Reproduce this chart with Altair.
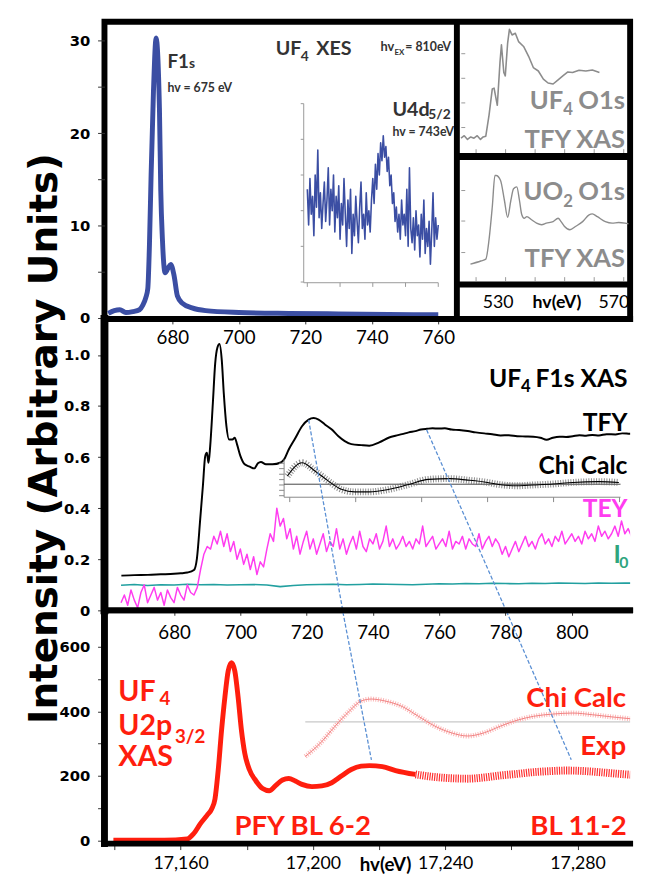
import altair as alt
import pandas as pd

FONT = "Lato"
NUM = "DejaVu Sans"

# ======================= DATA =======================
# ---- UF4 XES, F1s emission (top-left panel) ----
xes_ev = [660.7, 662.5, 664.2, 666.0, 668.1, 670.1, 671.1, 672.0, 672.6, 673.1, 673.6, 674.3, 675.1,
          676.1, 676.5, 677.0, 677.8, 678.7, 679.5, 680.5, 681.5, 683.0, 685.9, 690.0, 700.0, 715.0,
          730.0, 745.0, 760.0]
xes_val = [0.5, 0.8, 0.9, 0.6, 0.7, 0.9, 1.4, 2.2, 3.2, 8.0, 15.6, 24.5, 30.3,
           22.7, 13.8, 8.5, 4.9, 5.4, 5.8, 4.6, 2.4, 1.6, 1.1, 0.8, 0.6, 0.5,
           0.45, 0.4, 0.35]
xes_x_ticks = [680, 700, 720, 740, 760]
xes_y_ticks = [0, 5, 10, 15, 20, 25, 30]
XES_XDOM = [659.56, 765.6]
XES_YDOM = [-0.1, 32.07]

# ---- U4d5/2 inset (its own units: x 0..4, y 0..5) ----
u4d_iy = [2.6, 1.6, 2.9, 1.9, 2.4, 1.3, 3.0, 2.1, 3.7, 1.8, 2.5, 1.5, 2.2,
          2.8, 1.7, 2.3, 3.2, 1.6, 2.6, 2.0, 3.0, 1.4, 2.4, 1.8, 2.7, 1.2, 2.2, 1.6, 2.9, 1.9, 1.0,
          2.3, 1.5, 2.6, 0.8, 1.9, 1.3, 2.4, 1.7, 1.1, 2.1, 2.8, 1.5, 1.9, 1.2, 2.5, 1.6, 2.0, 1.4, 2.3,
          2.9, 2.2, 3.3, 2.6, 3.6, 3.0, 3.9, 3.4, 4.1, 3.5, 3.8, 3.1, 3.5,
          2.7, 3.0, 2.2, 2.5, 1.7, 2.1, 1.4, 1.9, 1.2, 2.3, 1.6, 1.9,
          1.3, 2.6, 1.0, 3.2, 1.5, 1.1, 1.8, 0.9, 2.0, 1.3, 1.6, 0.7, 1.9, 1.2, 2.3, 0.8, 1.5, 1.0,
          1.7, 0.5, 1.4, 2.5, 1.0, 1.8, 1.2, 1.6]
u4d_ix_step = 0.04
u4d_x_ticks = [0, 1, 2, 3, 4]
u4d_y_ticks = [0, 1, 2, 3, 4, 5]
# placement of the inset frame inside the XES panel (host units)
U4D_EV0, U4D_EV_PER = 720.6, 9.85
U4D_V0, U4D_V_PER = 3.9, 3.86

# ---- UF4 O1s TFY XAS (top-right 1) ----
p1_ev = [515.1, 516.2, 517.3, 518.4, 519.5, 520.6, 521.7, 522.6, 523.5, 524.6, 525.7, 526.3, 527.4,
         528.3, 528.8, 529.6, 530.1, 530.9, 531.5, 532.4, 533.5, 534.6, 536.3, 538.0, 539.6, 541.3,
         543.0, 544.6, 546.3, 548.0, 549.6, 551.3, 552.9, 555.1, 557.4, 559.6, 562.0]
p1_val = [0.11, 0.13, 0.10, 0.12, 0.11, 0.13, 0.10, 0.12, 0.126, 0.298, 0.512, 0.518, 0.378,
          0.726, 0.872, 0.646, 0.618, 0.886, 0.998, 0.952, 0.966, 0.898, 0.858, 0.778, 0.686, 0.658,
          0.592, 0.56, 0.552, 0.586, 0.618, 0.65, 0.646, 0.664, 0.658, 0.666, 0.646]
p1_y_ticks = [0.2, 0.4, 0.6, 0.8]
P1_YDOM = [-0.04, 1.06]

# ---- UO2 O1s TFY XAS (top-right 2) ----
p2_ev = [518.3, 521.8, 523.5, 524.6, 525.7, 526.6, 527.0, 528.5, 529.8, 530.9, 532.0, 532.9, 534.0,
         534.9, 535.7, 536.5, 537.4, 539.0, 540.7, 542.4, 544.0, 546.3, 548.0, 549.0, 550.1, 552.0,
         554.0, 556.3, 558.5, 559.6, 561.3, 564.0, 566.3, 568.5, 570.7, 571.8]
p2_val = [0.61, 0.71, 0.77, 1.40, 2.46, 3.47, 3.47, 3.31, 2.67, 2.12, 2.67, 3.04, 3.10,
          2.67, 2.20, 2.09, 2.14, 2.04, 1.93, 1.88, 1.93, 1.98, 2.09, 1.98, 1.83, 1.72,
          1.83, 1.98, 2.20, 2.23, 2.14, 1.98, 1.93, 1.95, 1.93, 1.91]
p2_y_ticks = [1, 2, 3]
P2_YDOM = [-0.05, 4.08]
o1s_x_ticks = [520, 530, 540, 550, 560, 570]
O1S_XDOM = [513.7, 572.4]

# ---- UF4 F1s XAS (middle) ----
tfy_ev = [664.1, 668, 672.1, 676, 680, 682.0, 684, 686.0, 686.9, 687.9, 688.7, 689.4, 689.9, 690.4,
          690.9, 691.7, 692.4, 693.1, 693.7, 694.4, 695.0, 695.8, 696.6, 697.6, 698.3, 699.0, 700.0,
          701.3, 702.8, 704.2, 705.3, 706.2, 707.7, 709.7, 712.2, 713.2, 714.6, 716.6, 718.6, 720.6,
          722.1, 723.6, 725.5, 727.5, 729.5, 731.5, 733.5, 736.5, 738.9, 741.9, 744.9, 746.8, 748.8,
          750.8, 752.8, 754.5, 756.3, 758.0, 759.7, 761.7, 763.7, 766.0, 768.6, 771.0, 773.6, 776.0,
          778.5, 781.0, 783.5, 786.0, 788.4, 790.5, 792.4, 794.3, 796.3, 798.3, 800.3, 802.3, 804.3,
          806.2, 808.2, 810.5, 813.2, 815.2, 817.1, 820.0]
tfy_val = [0.136, 0.138, 0.139, 0.141, 0.143, 0.145, 0.148, 0.158, 0.204, 0.359, 0.488, 0.604, 0.617,
           0.578, 0.643, 0.811, 0.966, 1.030, 1.043, 0.979, 0.850, 0.721, 0.669, 0.669, 0.676, 0.650,
           0.605, 0.572, 0.563, 0.556, 0.576, 0.581, 0.572, 0.572, 0.579, 0.591, 0.630, 0.675, 0.721,
           0.747, 0.753, 0.747, 0.728, 0.709, 0.683, 0.663, 0.651, 0.647, 0.645, 0.658, 0.677, 0.684,
           0.690, 0.697, 0.702, 0.708, 0.711, 0.713, 0.712, 0.713, 0.708, 0.706, 0.702, 0.697, 0.693,
           0.690, 0.685, 0.686, 0.682, 0.681, 0.680, 0.676, 0.668, 0.676, 0.680, 0.679, 0.682, 0.686,
           0.684, 0.687, 0.685, 0.690, 0.689, 0.693, 0.692, 0.690]
tey_ev0, tey_step = 664, 1
tey_val = [0.03, 0.06, 0.02, 0.08, 0.04, 0.01, 0.07, 0.10, 0.03, 0.06, 0.09, 0.04, 0.07, 0.02, 0.08,
           0.05, 0.03, 0.09, 0.06, 0.04, 0.10, 0.07, 0.06,
           0.09, 0.16, 0.22, 0.25, 0.24, 0.29, 0.26, 0.31, 0.25, 0.30,
           0.23, 0.27, 0.20, 0.24, 0.18, 0.22, 0.16, 0.21, 0.14, 0.19, 0.17,
           0.24, 0.30, 0.27, 0.40, 0.33, 0.36, 0.28, 0.32, 0.24, 0.29,
           0.22, 0.27, 0.31, 0.24, 0.28, 0.22, 0.26, 0.30, 0.23, 0.27, 0.25, 0.32, 0.24, 0.28, 0.22,
           0.26, 0.29, 0.24, 0.31, 0.25, 0.23, 0.28,
           0.26, 0.30, 0.24, 0.27, 0.33, 0.25, 0.28, 0.24, 0.26, 0.29, 0.25, 0.27, 0.24, 0.28, 0.26,
           0.33, 0.25, 0.27, 0.29, 0.24, 0.26, 0.28, 0.25, 0.31, 0.24, 0.27, 0.26, 0.29, 0.24, 0.28,
           0.26, 0.25, 0.30, 0.24, 0.27, 0.29, 0.25, 0.28, 0.26,
           0.22, 0.25, 0.21, 0.24, 0.27, 0.23, 0.26, 0.29, 0.25, 0.27, 0.24, 0.28, 0.30, 0.26, 0.28,
           0.25, 0.29, 0.27, 0.31, 0.26, 0.28, 0.30, 0.27, 0.29, 0.26, 0.31, 0.28, 0.30, 0.27, 0.33,
           0.29, 0.31, 0.28, 0.30, 0.33, 0.29, 0.35, 0.30, 0.32, 0.29, 0.34, 0.31]
i0_ev0, i0_step = 664, 4
i0_val = [0.098, 0.101, 0.097, 0.100, 0.099, 0.102, 0.100, 0.101, 0.099, 0.100, 0.101, 0.099, 0.093,
          0.097, 0.100, 0.101, 0.102, 0.100, 0.101, 0.103, 0.102, 0.101, 0.100, 0.102, 0.104, 0.103,
          0.105, 0.104, 0.106, 0.105, 0.104, 0.106, 0.105, 0.107, 0.106, 0.105, 0.107, 0.106, 0.107,
          0.106]
chi_ev = [714.2, 718.6, 722.6, 726.5, 730.5, 734.5, 738.9, 744.9, 750.8, 756.7, 763.2, 768.6, 774.6,
          778.5, 783.5, 788.4, 794.4, 800.3, 808.2, 814.2]
chi_val = [0.526, 0.578, 0.545, 0.507, 0.474, 0.464, 0.464, 0.474, 0.493, 0.513, 0.516, 0.510, 0.501,
           0.492, 0.488, 0.491, 0.495, 0.501, 0.504, 0.501]
# chi inset frame (host units)
chi_frame_ev = [713.2, 814.7]
chi_frame_val = [0.443, 0.591]
chi_zero = 0.494
chi_y_ticks = [0.449, 0.470, 0.491, 0.512, 0.533, 0.555, 0.576]
chi_x_ticks = [714.9, 734.8, 754.7, 774.6, 794.5, 814.4]
mid_x_ticks = [680, 700, 720, 740, 760, 780, 800]
mid_y_ticks = [0, 0.2, 0.4, 0.6, 0.8, 1.0]
MID_XDOM = [659, 817.6]
MID_YDOM = [0, 1.141]
# guide lines TFY peaks -> U2p3/2 peaks (middle part)
mid_guide = [(720.6, 0.746, 731.4, -0.037), (756.2, 0.707, 781.4, -0.037)]

# ---- UF4 U2p3/2 XAS (bottom) ----
pfy_ev = [17139.7, 17150, 17155.1, 17162.0, 17164.0, 17166.0, 17168.0, 17169.4, 17170.4, 17171.4,
          17172.4, 17173.4, 17174.4, 17175.4, 17176.4, 17177.4, 17178.4, 17179.4, 17180.8, 17182.8,
          17184.8, 17186.8, 17188.8, 17190.8, 17192.7, 17194.7, 17196.7, 17199.7, 17202.7, 17205.7,
          17208.6, 17211.6, 17214.6, 17217.1, 17221.0, 17225.0, 17231.0]
pfy_val = [0, 0, 0, 3.7, 20.8, 51.4, 77.1, 97.2, 127.8, 219.6, 341.9, 444.0, 525.4, 551.1, 525.4,
           444.0, 341.9, 270.6, 219.6, 184.0, 160.4, 153.4, 170.5, 187.0, 191.9, 183.9, 173.5, 166.5,
           168.6, 178.7, 199.2, 219.6, 230.0, 231.8, 228.7, 216.5, 204.3]
bl_ev = [17231.0, 17236.9, 17241.8, 17246.8, 17251.8, 17256.7, 17261.7, 17266.7, 17271.6, 17276.6,
         17281.6, 17286.5, 17291.5, 17298.9]
bl_val = [204.3, 196.3, 192.5, 191.1, 195.0, 201.2, 206.0, 211.4, 214.5, 216.5, 215.0, 211.4, 207.0,
          201.2]
chib_ev = [17197.7, 17202.2, 17206.6, 17211.1, 17214.6, 17217.7, 17222.0, 17227.0, 17231.9, 17236.9,
           17241.8, 17246.8, 17251.8, 17256.7, 17261.7, 17266.7, 17272.6, 17278.6, 17284.5, 17291.5,
           17298.9]
chib_val = [260.2, 300.9, 352.9, 401.8, 432.4, 438.5, 432.0, 415.4, 384.9, 354.3, 333.8, 323.7, 333.8,
            354.3, 372.6, 384.9, 391.9, 395.0, 389.8, 381.8, 374.5]
chib_zero = 367.6
chib_zero_ev = [17197.7, 17298.3]
bot_guide = [(17208.4, 744.6, 17217.7, 249.2), (17257.1, 744.6, 17278.1, 250.2)]
bot_x_ticks = [17140, 17160, 17180, 17200, 17220, 17240, 17260, 17280]
bot_y_ticks = [0, 100, 200, 300, 400, 500, 600]
BOT_XDOM = [17137, 17295.9]
BOT_YDOM = [-10.7, 714]

# colours
BLUE = "#3b4ea3"
GRAY = "#8c8c8c"
MAG = "#ff3cf0"
TEAL = "#22a0a0"
GREEN = "#2fa57e"
RED = "#ff1e0e"
DASHBLUE = "#5a8fd3"
DARK = "#333333"

# panel geometry (pixels of the plot areas)
TOP_W, TOP_H = 534, 302
XES_W = 358
P1_H, P2_H, BOX_H = 137, 130, 35
MID_W, MID_H = 534, 296
BOT_W, BOT_H = 534, 237


# ======================= HELPERS =======================
def make_enc(xdom, ydom, xaxis=None, yaxis=None, xrange=None, yrange=None):
    def X(f="x"):
        kw = dict(domain=xdom, nice=False, zero=False, padding=0)
        if xrange is not None:
            kw["range"] = xrange
        return alt.X(f"{f}:Q", scale=alt.Scale(**kw), axis=xaxis)

    def Y(f="y"):
        kw = dict(domain=ydom, nice=False, zero=False, padding=0)
        if yrange is not None:
            kw["range"] = yrange
        return alt.Y(f"{f}:Q", scale=alt.Scale(**kw), axis=yaxis)
    return X, Y


def line(df, X, Y, color, width, dash=None, interp="linear", opacity=1.0, group=False, clip=True):
    kw = dict(color=color, strokeWidth=width, clip=clip, interpolate=interp, opacity=opacity,
              strokeJoin="round")
    if dash:
        kw["strokeDash"] = dash
    enc = dict(x=X(), y=Y())
    if group:
        enc["detail"] = "g:N"
    return alt.Chart(df).mark_line(**kw).encode(**enc)


def rules(df, X, Y, color, width, clip=True, cap="butt"):
    return alt.Chart(df).mark_rule(color=color, strokeWidth=width, clip=clip, strokeCap=cap).encode(
        x=X(), x2=alt.X2("x2"), y=Y(), y2=alt.Y2("y2"))


def frame_no_right(xdom, ydom, X, Y, left_w=7):
    """open frame (left, top, bottom) drawn along the domain edges"""
    df = pd.DataFrame([
        dict(x=xdom[0], x2=xdom[1], y=ydom[1], y2=ydom[1]),
        dict(x=xdom[0], x2=xdom[1], y=ydom[0], y2=ydom[0])])
    left = pd.DataFrame([dict(x=xdom[0], x2=xdom[0], y=ydom[0], y2=ydom[1])])
    return [rules(df, X, Y, "black", 6, clip=False, cap="square"),
            rules(left, X, Y, "black", left_w, clip=False, cap="square")]


def texts(rows, X, Y, align="left", weight="bold", baseline="alphabetic"):
    df = pd.DataFrame(rows, columns=["t", "x", "y", "s", "c"])
    return alt.Chart(df).mark_text(align=align, baseline=baseline, font=FONT,
                                   fontWeight=weight).encode(
        x=X(), y=Y(), text="t:N",
        size=alt.Size("s:Q", scale=None),
        color=alt.Color("c:N", scale=None))


def guide_df(segs):
    rows = []
    for i, (x1, y1, x2, y2) in enumerate(segs):
        rows += [dict(g=i, x=x1, y=y1), dict(g=i, x=x2, y=y2)]
    return pd.DataFrame(rows)


def y_axis(values, expr, **kw):
    return alt.Axis(values=values, labelExpr=expr, domain=False, grid=False, tickSize=7,
                    tickColor="#333", labelFont=NUM, labelFontWeight="bold", labelFontSize=15,
                    labelPadding=8, labelColor="black", labelOverlap=False, **kw)


def x_axis(values, size, tick, pad, **kw):
    return alt.Axis(values=values, domain=False, grid=False, tickSize=tick, tickColor="#333",
                    labelFont=FONT, labelFontSize=size, labelPadding=pad, labelColor="black",
                    labelOverlap=False, labelFlush=False, **kw)


def tick_axis(values, offset, orient):
    return alt.Axis(values=values, labels=False, title=None, domain=False, grid=False,
                    tickSize=4, tickColor="#999", offset=offset, orient=orient)


# ======================= TOP ROW (one frame, four coordinate systems) =======================
# --- XES ---
Xx, Yx = make_enc(XES_XDOM, XES_YDOM,
                  x_axis(xes_x_ticks, 19, 5, 5, title=None, orient="bottom"),
                  y_axis(xes_y_ticks, "datum.value % 10 === 0 ? datum.label : ''", title=None,
                         orient="left"),
                  xrange=[0, XES_W], yrange=[TOP_H, 0])

f1s_df = pd.DataFrame({"x": xes_ev, "y": xes_val})
u4d_df = pd.DataFrame({"x": [U4D_EV0 + i * u4d_ix_step * U4D_EV_PER for i in range(len(u4d_iy))],
                       "y": [U4D_V0 + v * U4D_V_PER for v in u4d_iy]})
ax_left = U4D_EV0 - 0.11 * U4D_EV_PER
ax_bot = U4D_V0 - 0.02 * U4D_V_PER
u4d_frame = pd.DataFrame([
    dict(x=ax_left, x2=ax_left, y=ax_bot, y2=U4D_V0 + 5 * U4D_V_PER),
    dict(x=ax_left, x2=U4D_EV0 + 4 * U4D_EV_PER, y=ax_bot, y2=ax_bot)]
    + [dict(x=ax_left - 0.9, x2=ax_left, y=U4D_V0 + t * U4D_V_PER, y2=U4D_V0 + t * U4D_V_PER)
       for t in u4d_y_ticks]
    + [dict(x=U4D_EV0 + t * U4D_EV_PER, x2=U4D_EV0 + t * U4D_EV_PER, y=ax_bot, y2=ax_bot - 0.45)
       for t in u4d_x_ticks])
xes_border = pd.DataFrame([dict(x=XES_XDOM[1], x2=XES_XDOM[1], y=XES_YDOM[0], y2=XES_YDOM[1])])

xes_part = alt.layer(
    rules(u4d_frame, Xx, Yx, "#999999", 1),
    line(u4d_df, Xx, Yx, BLUE, 1.6),
    line(f1s_df, Xx, Yx, BLUE, 5, interp="monotone"),
    texts([("F1", 678.5, 27.1, 19, DARK), ("s", 685.0, 27.1, 14, DARK),
           ("hv = 675 eV", 678.5, 24.5, 12.5, DARK),
           ("UF", 711.1, 28.5, 20, DARK), ("4", 718.6, 27.8, 14, DARK), ("XES", 723.3, 28.5, 20, DARK),
           ("hv", 742.6, 28.9, 13, DARK), ("EX", 746.8, 28.5, 8, DARK),
           ("= 810eV", 750.1, 28.9, 12.5, DARK),
           ("U4d", 746.2, 21.9, 20, DARK), ("5/2", 757.0, 21.5, 14, DARK),
           ("hv = 743eV", 746.2, 19.7, 12.5, DARK)], Xx, Yx),
    rules(xes_border, Xx, Yx, "black", 6, clip=False),
)

# --- UF4 O1s ---
X1, Y1 = make_enc(O1S_XDOM, P1_YDOM,
                  tick_axis(o1s_x_ticks, -(TOP_H - P1_H) - 8, "bottom"),
                  tick_axis(p1_y_ticks, -XES_W - 8, "left"),
                  xrange=[XES_W, TOP_W], yrange=[P1_H, 0])
p1_border = pd.DataFrame([dict(x=O1S_XDOM[0], x2=O1S_XDOM[1], y=P1_YDOM[0], y2=P1_YDOM[0])])
p1_part = alt.layer(
    line(pd.DataFrame({"x": p1_ev, "y": p1_val}), X1, Y1, GRAY, 1.6),
    texts([("O1s", 570.7, 0.352, 26, GRAY), ("4", 553.0, 0.298, 17, GRAY),
           ("UF", 549.7, 0.352, 26, GRAY), ("TFY XAS", 570.7, 0.032, 26, GRAY)], X1, Y1, align="right"),
    rules(p1_border, X1, Y1, "black", 7, clip=False),
)

# --- UO2 O1s ---
X2_, Y2_ = make_enc(O1S_XDOM, P2_YDOM,
                    tick_axis(o1s_x_ticks, -BOX_H - 8, "bottom"),
                    tick_axis(p2_y_ticks, -XES_W - 8, "left"),
                    xrange=[XES_W, TOP_W], yrange=[P1_H + P2_H, P1_H])
p2_border = pd.DataFrame([dict(x=O1S_XDOM[0], x2=O1S_XDOM[1], y=P2_YDOM[0], y2=P2_YDOM[0])])
p2_part = alt.layer(
    line(pd.DataFrame({"x": p2_ev, "y": p2_val}), X2_, Y2_, GRAY, 1.4, interp="monotone"),
    texts([("O1s", 570.7, 2.67, 26, GRAY), ("2", 553.0, 2.46, 17, GRAY),
           ("UO", 549.7, 2.67, 26, GRAY), ("TFY XAS", 570.7, 0.50, 26, GRAY)], X2_, Y2_, align="right"),
    rules(p2_border, X2_, Y2_, "black", 6, clip=False),
)

# --- energy label box ---
Xb, Yb = make_enc(O1S_XDOM, [0, 1], xrange=[XES_W, TOP_W], yrange=[TOP_H, TOP_H - BOX_H])
box_part = alt.layer(
    texts([("530", 527.7, 0.45, 18, "black"), ("570", 566.9, 0.45, 18, "black")], Xb, Yb,
          align="center", weight="normal", baseline="middle"),
    texts([("hv(eV)", 547.6, 0.45, 18, "black")], Xb, Yb, align="center", baseline="middle"),
)

top_row = alt.layer(xes_part, p1_part, p2_part, box_part).resolve_scale(
    x="independent", y="independent").properties(width=TOP_W, height=TOP_H)

# ======================= MIDDLE PANEL =======================
Xm, Ym = make_enc(
    MID_XDOM, MID_YDOM,
    x_axis(mid_x_ticks, 19, 5, 9, title=None),
    y_axis(mid_y_ticks, "datum.value === 0 ? '0' : format(datum.value, '.1f')",
           title="Intensity (Arbitrary Units)", titleFont=NUM, titleFontSize=39.5,
           titleFontWeight="bold", titleAngle=270, titleAlign="center", titleBaseline="middle",
           titleX=-60.5, titleY=121, titleColor="black"))

tey_df = pd.DataFrame({"x": [tey_ev0 + i * tey_step for i in range(len(tey_val))], "y": tey_val})
i0_df = pd.DataFrame({"x": [i0_ev0 + i * i0_step for i in range(len(i0_val))], "y": i0_val})
tfy_df = pd.DataFrame({"x": tfy_ev, "y": tfy_val})
chi_df = pd.DataFrame({"x": chi_ev, "y": chi_val})
fx0, fx1 = chi_frame_ev
fy0, fy1 = chi_frame_val
chi_frame = pd.DataFrame(
    [dict(x=fx0, x2=fx0, y=fy0, y2=fy1), dict(x=fx0, x2=fx1, y=fy0, y2=fy0)]
    + [dict(x=fx0 - 1.5, x2=fx0, y=t, y2=t) for t in chi_y_ticks]
    + [dict(x=t, x2=t, y=fy0, y2=fy0 - 0.019) for t in chi_x_ticks])
chi_zero_df = pd.DataFrame([dict(x=fx0, x2=fx1, y=chi_zero, y2=chi_zero)])

mid = alt.layer(
    line(i0_df, Xm, Ym, TEAL, 1.6),
    line(tey_df, Xm, Ym, MAG, 1.5),
    line(tfy_df, Xm, Ym, "black", 2, interp="monotone"),
    rules(chi_frame, Xm, Ym, "#888888", 1),
    rules(chi_zero_df, Xm, Ym, "#444444", 1),
    line(chi_df, Xm, Ym, "#666666", 7, dash=[1, 1.6], interp="monotone", opacity=0.75),
    line(chi_df, Xm, Ym, "black", 1.1, interp="monotone"),
    line(guide_df(mid_guide), Xm, Ym, DASHBLUE, 1.3, dash=[4, 2], group=True),
    texts([("F1s XAS", 816.8, 0.874, 25, "black"), ("4", 787.6, 0.856, 17, "black"),
           ("UF", 784.7, 0.874, 25, "black"), ("TFY", 816.8, 0.701, 25, "black"),
           ("Chi Calc", 816.8, 0.533, 25, "black"), ("TEY", 816.8, 0.365, 25, MAG),
           ("I", 814.8, 0.184, 25, GREEN), ("0", 817.1, 0.165, 16, GREEN)], Xm, Ym, align="right"),
    *frame_no_right(MID_XDOM, MID_YDOM, Xm, Ym, left_w=8),
).properties(width=MID_W, height=MID_H, view=alt.ViewBackground(stroke="transparent"))

# ======================= BOTTOM PANEL =======================
Xo, Yo = make_enc(
    BOT_XDOM, BOT_YDOM,
    x_axis(bot_x_ticks, 18, 6, 5, format=",d", labelExpr="datum.value % 40 === 0 ? datum.label : ''",
           title="hv(eV)", titleFont=FONT, titleFontSize=19, titleFontWeight="bold",
           titleX=285, titleY=21, titleBaseline="middle", titleColor="black"),
    y_axis(bot_y_ticks, "datum.value % 200 === 0 ? datum.label : ''", title=None))

chib_df = pd.DataFrame({"x": chib_ev, "y": chib_val})
bot = alt.layer(
    rules(pd.DataFrame([dict(x=chib_zero_ev[0], x2=chib_zero_ev[1], y=chib_zero, y2=chib_zero)]),
          Xo, Yo, "#c8c8c8", 1.2),
    line(chib_df, Xo, Yo, "#fbb4b4", 5, dash=[1, 1.5], interp="monotone"),
    line(chib_df, Xo, Yo, "#f08080", 1, interp="monotone"),
    line(pd.DataFrame({"x": pfy_ev, "y": pfy_val}), Xo, Yo, RED, 5, interp="monotone"),
    line(pd.DataFrame({"x": bl_ev, "y": bl_val}), Xo, Yo, "#ff3030", 8, dash=[1.2, 1.2],
         interp="monotone"),
    line(guide_df(bot_guide), Xo, Yo, DASHBLUE, 1.3, dash=[4, 2], group=True),
    texts([("UF", 17141.2, 433.6, 29, RED), ("4", 17153.6, 420.0, 19, RED),
           ("U2p", 17141.2, 326.6, 29, RED), ("3/2", 17158.3, 301.2, 19, RED),
           ("XAS", 17141.2, 230.0, 29, RED), ("PFY BL 6-2", 17176.3, 15.9, 28, RED)], Xo, Yo),
    texts([("Chi Calc", 17294.7, 413.5, 28, RED), ("Exp", 17294.7, 265.4, 28, RED),
           ("BL 11-2", 17294.9, 15.9, 28, RED)], Xo, Yo, align="right"),
    *frame_no_right(BOT_XDOM, BOT_YDOM, Xo, Yo, left_w=7),
).properties(width=BOT_W, height=BOT_H, view=alt.ViewBackground(stroke="transparent"))

chart = alt.vconcat(top_row, mid, bot, spacing=0, bounds="flush").configure_view(
    stroke="black", strokeWidth=6
).configure_axis(grid=False).properties(
    padding={"left": 14, "top": 1, "right": 0, "bottom": -4}, background="white"
)

chart.save("out.html", embed_options={"renderer": "svg", "actions": False})
